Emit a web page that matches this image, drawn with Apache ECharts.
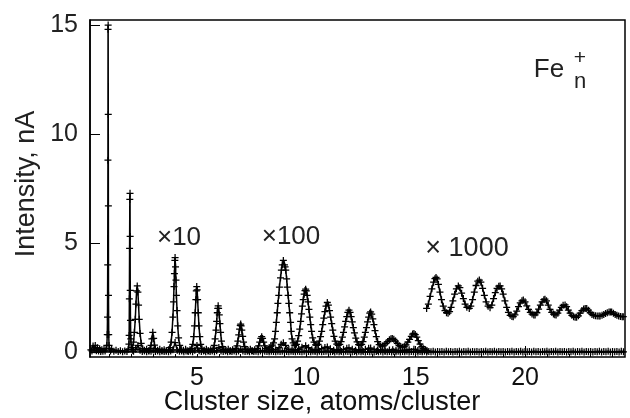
<!DOCTYPE html>
<html>
<head>
<meta charset="utf-8">
<script src="https://cdn.jsdelivr.net/npm/echarts@6/dist/echarts.min.js"></script>
<style>
  html, body { margin: 0; padding: 0; background: #fff; }
  #main { width: 630px; height: 418px; }
</style>
</head>
<body>
<div id="main"></div>
<script>
// axis ticks
var xLabelTicks = [5, 10, 15, 20];
var xSizeTicks = [1, 2, 3, 4, 5, 6, 7, 8, 9, 10, 11, 12, 13, 14, 15, 16, 17, 18, 19, 20, 21, 22, 23, 24];
var yLabelTicks = [0, 5, 10, 15];

// x1 trace, Fe1 and Fe2 region (cluster size, nA)
var raw1Head = [
    [0.15,0.1],[0.2,0.05],[0.25,0.28],[0.3,0.1],[0.35,0.3],[0.4,0.06],[0.45,0.2],[0.5,0.04],[0.55,0.15],[0.6,0.02],
    [0.65,0.1],[0.7,0.03],[0.75,0.12],[0.8,0.05],[0.85,0.15],
    [0.88,0.3],[0.9,0.8],[0.91,1.6],[0.92,4.0],[0.93,8.8],[0.935,14.8],[0.94,15.0],[0.945,10.9],[0.95,6.7],[0.955,2.6],
    [0.965,0.8],[0.98,0.3],[1.0,0.15],
    [1.05,0.05],[1.1,0.12],[1.2,0.03],[1.3,0.08],[1.4,0.02],[1.5,0.06],[1.6,0.01],[1.7,0.05],[1.8,0.02],
    [1.86,0.12],[1.89,0.36],[1.9,0.76],[1.91,2.44],[1.92,4.75],[1.93,7.0],[1.94,7.28],[1.945,5.3],[1.95,2.83],
    [1.96,1.45],[1.975,0.6],[2.0,0.2],[2.05,0.08]
];
// x1 trace after Fe2, sampled every 0.1 from 2.1
var raw1TailStart = 2.1;
var raw1TailStep = 0.1;
var raw1Tail = [
    0.03,0.12,0.3,0.08,0.02,0.05,0.01,0.04,0.03,0.09,
    0.02,0.05,0.01,0.04,0.02,0.05,0.01,0.04,0.1,0.43,
    0.08,0.03,0.05,0.01,0.04,0.02,0.05,0.01,0.08,0.3,
    0.06,0.02,0.04,0.01,0.05,0.02,0.04,0.01,0.06,0.21,
    0.05,0.02,0.04,0.01,0.03,0.02,0.04,0.01,0.05,0.13,
    0.04,0.02,0.03,0.01,0.04,0.02,0.03,0.01,0.04,0.07,
    0.03,0.02,0.01,0.03,0.02,0.01,0.03,0.02,0.03,0.05,
    0.02,0.01,0.03,0.02,0.01,0.03,0.02,0.01,0.03,0.04,
    0.02,0.01,0.03,0.02,0.0,0.03,0.01,0.02,0.03,0.04,
    0.01,0.02,0.0,0.03,0.01,0.02,0.0,0.03,0.02,0.03,
    0.01,0.02,0.0,0.03,0.01,0.02,0.0,0.02,0.01,0.03,
    0.0,0.02,0.01,0.03,0.0,0.02,0.01,0.02,0.0,0.02,
    0.01,0.03,0.0,0.02,0.01,0.03,0.0,0.02,0.01,0.02,
    0.0,0.02,0.01,0.03,0.0,0.02,0.01,0.03,0.0,0.02,
    0.01,0.02,0.0,0.03,0.01,0.02,0.0,0.02,0.01,0.03,
    0.0,0.02,0.01,0.03,0.0,0.02,0.01,0.02,0.0,0.02,
    0.01,0.03,0.0,0.02,0.01,0.03,0.0,0.02,0.01,0.02,
    0.0,0.02,0.01,0.03,0.0,0.02,0.01,0.03,0.0,0.02,
    0.01,0.02,0.0,0.03,0.01,0.02,0.0,0.02,0.01,0.03,
    0.0,0.02,0.01,0.03,0.0,0.02,0.01,0.02,0.0,0.02,
    0.01,0.03,0.0,0.02,0.01,0.03,0.0,0.02,0.01,0.02,
    0.0,0.02,0.01,0.03,0.0,0.02,0.01,0.03,0.0,0.02,
    0.01,0.02,0.0,0.03,0.01
];

// x10 trace
var raw10 = [
    [2.05,0.2],[2.1,0.45],[2.14,0.9],[2.18,1.5],[2.21,2.2],[2.24,2.8],[2.27,3.03],[2.3,2.75],[2.33,2.15],[2.36,1.5],
    [2.4,0.85],[2.45,0.4],[2.52,0.15],[2.6,0.08],[2.7,0.12],[2.8,0.06],
    [2.86,0.15],[2.9,0.3],[2.94,0.6],[2.98,0.9],[3.02,0.62],[3.06,0.32],[3.1,0.15],
    [3.2,0.08],[3.3,0.12],[3.4,0.06],[3.5,0.1],[3.6,0.05],[3.7,0.1],
    [3.76,0.2],[3.82,0.45],[3.86,0.9],[3.9,1.6],[3.93,2.3],[3.95,3.0],[3.97,3.6],[3.99,4.2],[4.0,4.33],[4.02,3.9],
    [4.04,3.3],[4.06,2.6],[4.09,1.9],[4.12,1.2],[4.16,0.65],[4.21,0.3],[4.28,0.12],
    [4.38,0.08],[4.48,0.12],[4.58,0.06],[4.68,0.1],
    [4.76,0.15],[4.81,0.35],[4.85,0.7],[4.89,1.2],[4.92,1.8],[4.95,2.4],[4.97,2.8],[4.99,3.0],[5.01,2.85],[5.03,2.4],
    [5.06,1.8],[5.09,1.2],[5.13,0.7],[5.17,0.35],[5.23,0.15],
    [5.33,0.08],[5.43,0.12],[5.53,0.06],[5.63,0.1],
    [5.74,0.15],[5.79,0.3],[5.83,0.6],[5.87,1.0],[5.9,1.4],[5.93,1.8],[5.95,2.0],[5.97,2.12],[5.99,2.0],[6.02,1.7],
    [6.05,1.3],[6.08,0.9],[6.12,0.5],[6.17,0.25],[6.23,0.12],
    [6.33,0.08],[6.43,0.12],[6.53,0.06],[6.63,0.1],
    [6.78,0.15],[6.83,0.28],[6.87,0.5],[6.91,0.78],[6.95,1.05],[6.98,1.22],[7.0,1.28],[7.02,1.2],[7.05,1.0],[7.09,0.72],
    [7.13,0.45],[7.18,0.25],[7.24,0.12],
    [7.34,0.08],[7.44,0.12],[7.54,0.06],[7.64,0.1],
    [7.76,0.15],[7.82,0.28],[7.87,0.45],[7.92,0.62],[7.96,0.7],[8.0,0.62],[8.05,0.45],[8.1,0.28],[8.16,0.15],
    [8.3,0.08],[8.45,0.12],[8.6,0.1],[8.75,0.2],[8.85,0.35],[8.95,0.42],[9.05,0.3],[9.2,0.12],[9.35,0.1],[9.5,0.08],
    [9.65,0.12],[9.8,0.22],[9.97,0.29],[10.1,0.2],[10.25,0.1],[10.4,0.08],[10.55,0.1],[10.7,0.15],[10.85,0.21],[10.96,0.23],
    [11.1,0.15],[11.25,0.08],[11.4,0.1],[11.55,0.08],[11.7,0.12],[11.85,0.17],[11.95,0.19],[12.1,0.13],[12.25,0.08],[12.4,0.1],
    [12.55,0.08],[12.7,0.12],[12.85,0.17],[12.94,0.18],[13.1,0.12],[13.25,0.08],[13.4,0.1],[13.6,0.07],[13.8,0.09],[13.95,0.1],
    [14.1,0.08],[14.3,0.06],[14.5,0.08],[14.7,0.1],[14.92,0.12],[15.1,0.07],[15.3,0.05],[15.5,0.04]
];

// x100 trace
var raw100 = [
    [8.3,0.2],[8.38,0.25],[8.45,0.32],[8.5,0.42],[8.55,0.6],[8.59,0.95],[8.63,1.36],[8.67,1.8],[8.7,2.23],[8.74,2.6],
    [8.77,2.98],[8.82,3.4],[8.86,3.75],[8.9,4.0],[8.95,4.2],[9.0,4.0],[9.03,3.9],[9.06,3.75],[9.1,3.35],[9.13,2.98],
    [9.17,2.6],[9.2,2.23],[9.24,1.8],[9.28,1.36],[9.31,0.95],[9.35,0.6],[9.4,0.42],[9.45,0.32],[9.5,0.3],
    [9.55,0.35],[9.6,0.5],[9.65,0.75],[9.7,1.05],[9.74,1.4],[9.78,1.75],[9.82,2.1],[9.86,2.4],[9.9,2.65],[9.94,2.82],
    [9.97,2.88],[10.0,2.8],[10.04,2.6],[10.08,2.3],[10.12,1.95],[10.16,1.6],[10.2,1.25],[10.24,0.95],[10.29,0.65],[10.35,0.45],
    [10.42,0.33],[10.48,0.3],
    [10.54,0.35],[10.6,0.5],[10.65,0.7],[10.7,0.95],[10.75,1.25],[10.8,1.55],[10.85,1.85],[10.9,2.1],[10.96,2.27],[11.01,2.15],
    [11.06,1.9],[11.11,1.6],[11.16,1.3],[11.21,1.0],[11.26,0.72],[11.32,0.5],[11.39,0.36],[11.46,0.3],
    [11.53,0.35],[11.59,0.48],[11.65,0.68],[11.7,0.9],[11.75,1.15],[11.8,1.4],[11.85,1.62],[11.9,1.82],[11.95,1.92],[12.0,1.82],
    [12.05,1.62],[12.1,1.38],[12.15,1.12],[12.2,0.88],[12.26,0.64],[12.32,0.46],[12.39,0.34],[12.46,0.3],
    [12.53,0.35],[12.59,0.48],[12.65,0.68],[12.7,0.9],[12.75,1.12],[12.8,1.38],[12.85,1.6],[12.9,1.78],[12.94,1.84],[12.99,1.74],
    [13.04,1.52],[13.09,1.25],[13.14,0.98],[13.2,0.7],[13.26,0.48],[13.33,0.34],[13.4,0.28],
    [13.48,0.27],[13.56,0.32],[13.64,0.4],[13.72,0.48],[13.8,0.56],[13.87,0.61],[13.93,0.62],[14.0,0.58],[14.08,0.5],[14.16,0.4],
    [14.24,0.3],[14.32,0.24],[14.4,0.22],
    [14.48,0.25],[14.56,0.33],[14.64,0.45],[14.72,0.58],[14.8,0.72],[14.86,0.82],[14.92,0.85],[14.98,0.8],[15.05,0.68],[15.12,0.52],
    [15.2,0.36],[15.28,0.24],[15.36,0.15],[15.45,0.1],[15.52,0.06]
];

// x1000 trace
var raw1000 = [
    [15.5,2.0],[15.58,2.2],[15.66,2.55],[15.74,2.9],[15.82,3.2],[15.88,3.36],[15.93,3.42],[15.98,3.35],[16.04,3.1],[16.11,2.75],
    [16.18,2.4],[16.26,2.1],[16.34,1.9],[16.41,1.8],[16.48,1.78],[16.55,1.85],[16.62,2.05],[16.7,2.35],[16.78,2.65],[16.86,2.9],
    [16.95,3.03],[17.02,2.95],[17.1,2.7],[17.18,2.45],[17.26,2.2],[17.34,2.05],[17.45,2.0],[17.52,2.1],[17.6,2.4],[17.68,2.75],
    [17.76,3.05],[17.84,3.25],[17.91,3.3],[17.98,3.2],[18.06,2.92],[18.14,2.6],[18.22,2.3],[18.31,2.1],[18.4,2.03],[18.48,2.15],
    [18.56,2.45],[18.64,2.72],[18.72,2.92],[18.8,3.02],[18.86,3.03],[18.93,2.9],[19.0,2.65],[19.08,2.35],[19.16,2.05],[19.24,1.82],
    [19.32,1.68],[19.4,1.63],[19.46,1.62],[19.54,1.7],[19.62,1.88],[19.7,2.08],[19.78,2.25],[19.86,2.35],[19.92,2.38],[20.0,2.3],
    [20.08,2.12],[20.16,1.95],[20.24,1.82],[20.32,1.74],[20.4,1.7],[20.46,1.7],[20.54,1.8],[20.62,1.97],[20.7,2.15],[20.78,2.3],
    [20.86,2.4],[20.91,2.42],[20.98,2.35],[21.06,2.15],[21.14,1.95],[21.22,1.82],[21.3,1.74],[21.36,1.71],[21.42,1.7],[21.5,1.78],
    [21.58,1.92],[21.66,2.05],[21.74,2.14],[21.83,2.16],[21.9,2.08],[21.98,1.92],[22.06,1.78],[22.14,1.68],[22.22,1.62],[22.29,1.59],
    [22.36,1.59],[22.44,1.66],[22.52,1.78],[22.6,1.9],[22.68,1.97],[22.75,2.0],[22.82,2.0],[22.9,1.92],[22.98,1.8],[23.06,1.72],
    [23.14,1.68],[23.22,1.66],[23.3,1.65],[23.38,1.65],[23.43,1.65],[23.52,1.68],[23.6,1.72],[23.68,1.76],[23.76,1.8],[23.84,1.83],
    [23.9,1.84],[23.96,1.84],[24.04,1.78],[24.12,1.72],[24.2,1.68],[24.28,1.65],[24.36,1.63],[24.44,1.62],[24.49,1.62]
];

// "+" marker
var plusSymbol = 'path://M0,4.1H10V5.9H0Z M4.1,0H5.9V10H4.1Z';
var labelFont = '"Liberation Sans", Arial, sans-serif';

var raw1 = raw1Head.slice();
raw1Tail.forEach(function (v, i) {
    raw1.push([Math.round((raw1TailStart + i * raw1TailStep) * 100) / 100, v]);
});

function traceSeries(name, data) {
    return {
        name: name,
        type: 'line',
        data: data,
        symbol: plusSymbol,
        symbolSize: 7,
        showAllSymbol: true,
        lineStyle: { color: '#000', width: 1.5 },
        itemStyle: { color: '#000' },
        emphasis: { disabled: true },
        silent: true
    };
}

var myChart = echarts.init(document.getElementById('main'), null, { renderer: 'canvas' });
var option = {
    animation: false,
    grid: {
        left: 90, right: 5, top: 20, bottom: 61,
        show: true, borderColor: '#000', borderWidth: 1.5
    },
    xAxis: [
        {
            type: 'value', min: 0.11, max: 24.57,
            axisLine: { show: true, lineStyle: { color: '#000', width: 1.5 } },
            axisTick: { show: true, inside: true, length: 6, customValues: xLabelTicks, lineStyle: { color: '#000' } },
            axisLabel: { customValues: xLabelTicks, fontSize: 25, color: '#111', fontFamily: labelFont, margin: 9 },
            splitLine: { show: false }
        },
        {
            // integer cluster-size ticks
            type: 'value', min: 0.11, max: 24.57, position: 'bottom',
            axisLine: { show: false },
            axisTick: { show: true, inside: true, length: 3, customValues: xSizeTicks, lineStyle: { color: '#000' } },
            axisLabel: { show: false },
            splitLine: { show: false }
        }
    ],
    yAxis: {
        type: 'value', min: -0.23, max: 15.23,
        axisLine: { show: true, lineStyle: { color: '#000', width: 1.5 } },
        axisTick: { show: true, inside: true, length: 10, customValues: yLabelTicks, lineStyle: { color: '#000' } },
        axisLabel: { customValues: yLabelTicks, fontSize: 25, color: '#222', fontFamily: labelFont, margin: 12 },
        splitLine: { show: false }
    },
    series: [
        traceSeries('x1', raw1),
        traceSeries('x10', raw10),
        traceSeries('x100', raw100),
        traceSeries('x1000', raw1000)
    ],
    graphic: [
        { type: 'text', x: 27, y: 184, rotation: Math.PI / 2,
          style: { text: 'Intensity, nA', align: 'center', verticalAlign: 'middle', fontSize: 27, fontFamily: labelFont, fill: '#222' } },
        { type: 'text', x: 322, y: 403,
          style: { text: 'Cluster size, atoms/cluster', align: 'center', verticalAlign: 'middle', fontSize: 27, fontFamily: labelFont, fill: '#111' } },
        { type: 'text', x: 179, y: 238,
          style: { text: '×10', align: 'center', verticalAlign: 'middle', fontSize: 26, fontFamily: labelFont, fill: '#222' } },
        { type: 'text', x: 291, y: 237,
          style: { text: '×100', align: 'center', verticalAlign: 'middle', fontSize: 26, fontFamily: labelFont, fill: '#222' } },
        { type: 'text', x: 467, y: 249,
          style: { text: '× 1000', align: 'center', verticalAlign: 'middle', fontSize: 27, fontFamily: labelFont, fill: '#222' } },
        { type: 'text', x: 549, y: 70,
          style: { text: 'Fe', align: 'center', verticalAlign: 'middle', fontSize: 26, fontFamily: labelFont, fill: '#222' } },
        { type: 'text', x: 580, y: 58,
          style: { text: '+', align: 'center', verticalAlign: 'middle', fontSize: 21, fontFamily: labelFont, fill: '#222' } },
        { type: 'text', x: 580, y: 82,
          style: { text: 'n', align: 'center', verticalAlign: 'middle', fontSize: 22, fontFamily: labelFont, fill: '#222' } }
    ]
};
myChart.setOption(option);
</script>
</body>
</html>
